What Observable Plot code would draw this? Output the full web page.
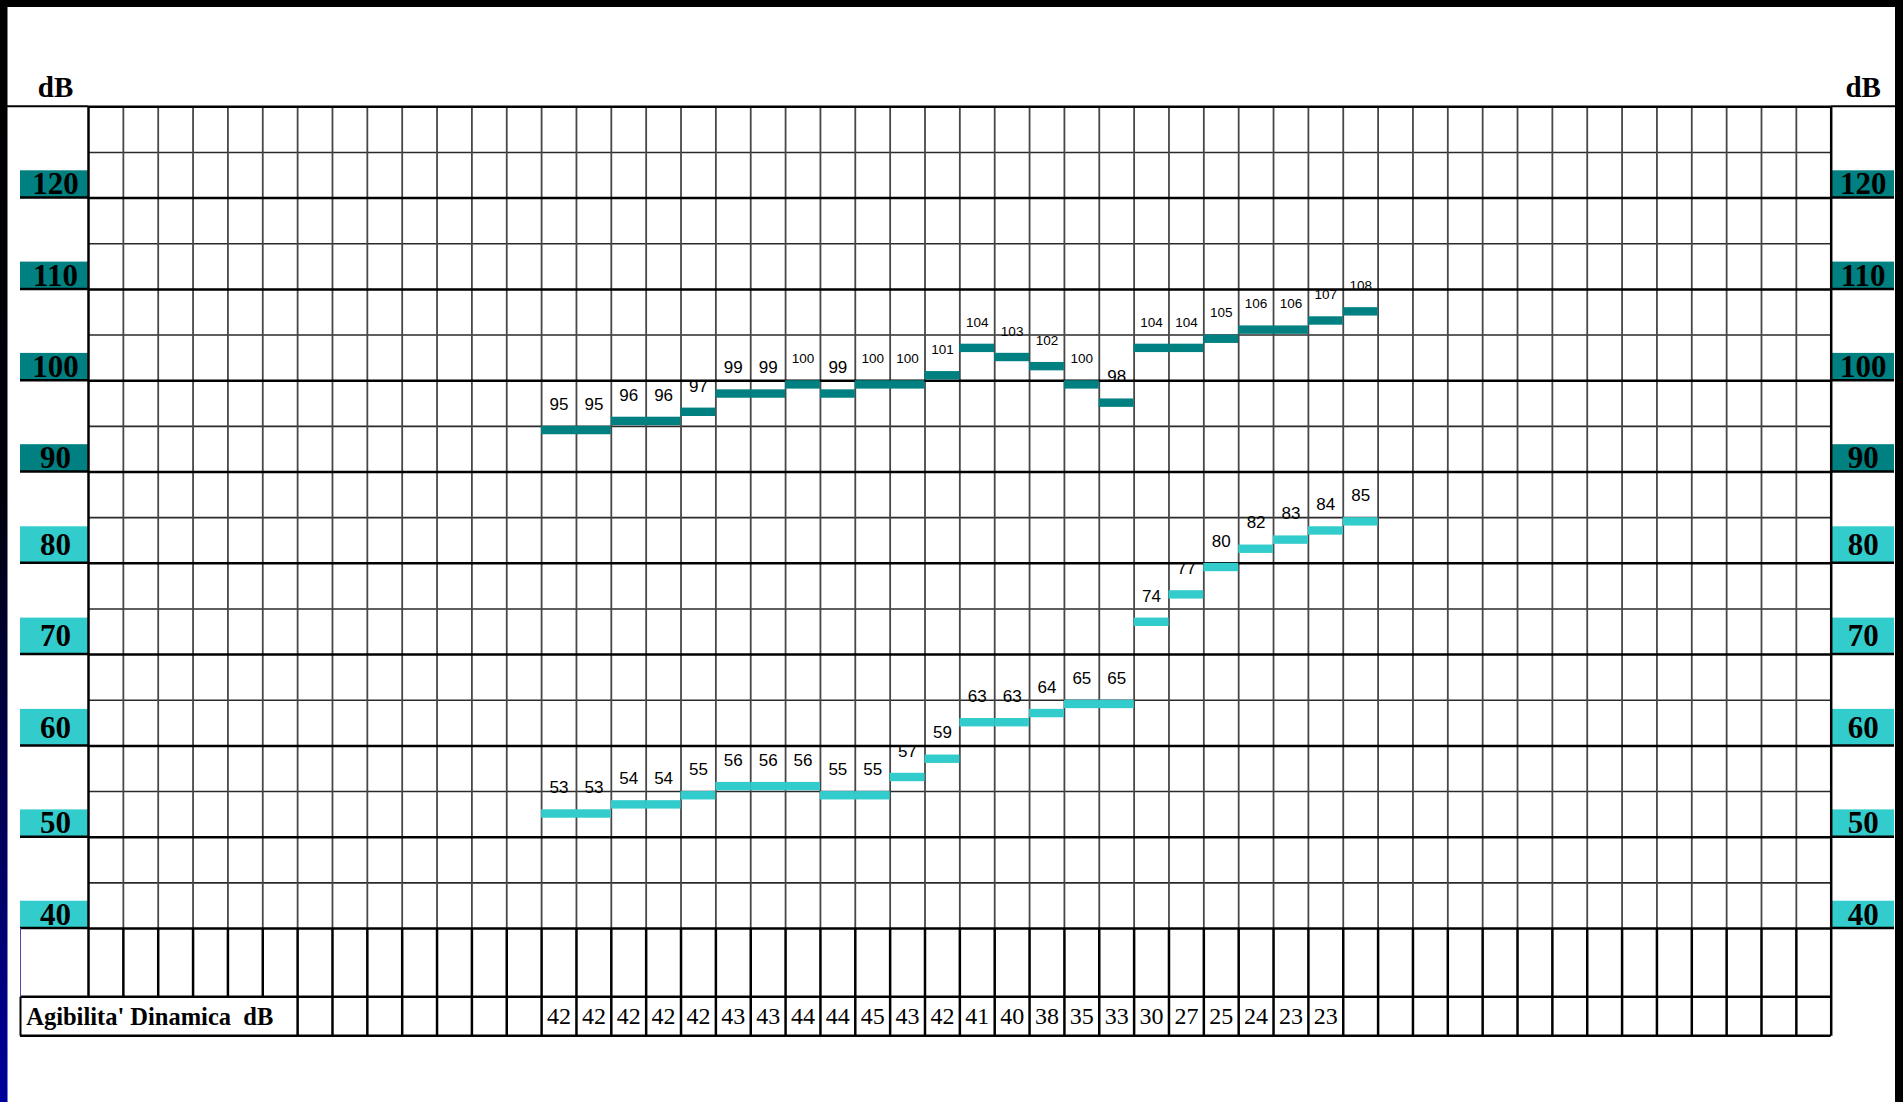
<!DOCTYPE html>
<html>
<head>
<meta charset="utf-8">
<script src="https://cdn.jsdelivr.net/npm/d3@7"></script>
<script src="https://cdn.jsdelivr.net/npm/@observablehq/plot@0.6"></script>
<style>
  html, body { margin: 0; padding: 0; background: #fff; overflow: hidden; }
  #chart { width: 1903px; height: 1102px; }
</style>
</head>
<body>
<div id="chart"></div>
<script>
// ---------------- data ----------------
const upperSeries = [95, 95, 96, 96, 97, 99, 99, 100, 99, 100, 100, 101, 104, 103, 102, 100, 98, 104, 104, 105, 106, 106, 107, 108];
const lowerSeries = [53, 53, 54, 54, 55, 56, 56, 56, 55, 55, 57, 59, 63, 63, 64, 65, 65, 74, 77, 80, 82, 83, 84, 85];
const agilityValues = [42, 42, 42, 42, 42, 43, 43, 44, 44, 45, 43, 42, 41, 40, 38, 35, 33, 30, 27, 25, 24, 23, 23];
const agilityLabel = "Agibilita' Dinamica\u00a0 dB";
const yTickLabels = [40, 50, 60, 70, 80, 90, 100, 110, 120];
const darkTickLabels = [90, 100, 110, 120];
const tallBoxTickLabels = [60, 70, 80];
const unitLabel = "dB";

// ---------------- layout ----------------
const W = 1903, H = 1102;
const totalColumns = 50, firstDataColumn = 13, mergedLabelColumns = 6;
const margin = {top: 106.3, right: 72.3, bottom: 66.3, left: 88};
const yMin = 40, yMax = 130;
const y40px = 928, tableMidPx = 996.7;
const frameBottom = H - margin.bottom;
const frameRight = W - margin.right;
const barThickness = 0.92;
const TEAL = "#008080", TURQ = "#33CCCC";
const serif = "'Liberation Serif','Times New Roman',serif";
const sans = "'Liberation Sans',Arial,sans-serif";
const boxShort = 27.3, boxTall = 36.5;

const upper = upperSeries.map((v, i) => ({col: firstDataColumn + i, v}));
const lower = lowerSeries.map((v, i) => ({col: firstDataColumn + i, v}));
const agility = agilityValues.map((v, i) => ({col: firstDataColumn + i, v}));

const minorLines = d3.range(yMin + 5, yMax, 10);
const majorLines = d3.range(yMin, yMax + 1, 10);
const innerColumns = d3.range(1, totalColumns);
const shortTicks = yTickLabels.filter(t => !tallBoxTickLabels.includes(t));
const tallTicks = yTickLabels.filter(t => tallBoxTickLabels.includes(t));

const labelSize = d => String(d.v).length > 2 ? 13.5 : 17;
const axisText = {tickSize: 0, textAnchor: "middle", fontSize: 31, fontWeight: "bold", fontFamily: serif, fill: "black", label: null};

const plot = Plot.plot({
  width: W, height: H,
  marginTop: margin.top, marginRight: margin.right, marginBottom: margin.bottom, marginLeft: margin.left,
  x: {domain: [0, totalColumns], axis: null},
  y: {domain: [yMin, yMax], range: [y40px, margin.top], label: null},
  style: {background: "transparent", color: "black", fontFamily: sans},
  marks: [
    // grid
    Plot.ruleY(minorLines, {stroke: "#2a2a2a", strokeWidth: 1.6}),
    Plot.ruleX(innerColumns, {y1: yMin, y2: yMax, stroke: "#474747", strokeWidth: 1.8}),
    Plot.ruleY(majorLines, {stroke: "black", strokeWidth: 2.5}),
    // table columns
    Plot.ruleX(d3.range(mergedLabelColumns, totalColumns), {insetTop: y40px - margin.top, stroke: "black", strokeWidth: 2.5}),
    Plot.ruleX(d3.range(1, mergedLabelColumns), {insetTop: y40px - margin.top, insetBottom: frameBottom - tableMidPx, stroke: "black", strokeWidth: 2.5}),
    Plot.ruleX([0], {insetBottom: frameBottom - tableMidPx, stroke: "black", strokeWidth: 2.5}),
    Plot.ruleX([totalColumns], {stroke: "black", strokeWidth: 2.5}),
    // bars
    Plot.rect(upper, {x1: "col", x2: d => d.col + 1, y1: d => d.v - barThickness, y2: "v", fill: TEAL}),
    Plot.rect(lower, {x1: "col", x2: d => d.col + 1, y1: d => d.v - barThickness, y2: "v", fill: TURQ}),
    // value labels
    Plot.text(upper, {x: d => d.col + 0.5, y: "v", text: d => String(d.v), dy: -22, lineAnchor: "middle", fontSize: labelSize, fontFamily: sans, fill: "black"}),
    Plot.text(lower, {x: d => d.col + 0.5, y: "v", text: d => String(d.v), dy: -22, lineAnchor: "middle", fontSize: labelSize, fontFamily: sans, fill: "black"}),
    // bottom table values
    Plot.text(agility, {x: d => d.col + 0.5, frameAnchor: "bottom", lineAnchor: "middle", dy: -19.5, text: d => String(d.v), fontSize: 24, fontFamily: serif, fill: "black"}),
    Plot.text([agilityLabel], {frameAnchor: "bottom-left", lineAnchor: "middle", dx: 25.7 - margin.left, dy: -19.5, text: d => d, textAnchor: "start", fontSize: 24.5, fontWeight: "bold", fontFamily: serif, fill: "black"}),
    // axes
    Plot.axisY(shortTicks, {...axisText, anchor: "left", tickPadding: 33, dy: -boxShort / 2}),
    Plot.axisY(tallTicks, {...axisText, anchor: "left", tickPadding: 33, dy: -boxTall / 2}),
    Plot.axisY(shortTicks, {...axisText, anchor: "right", tickPadding: 32, dy: -boxShort / 2}),
    Plot.axisY(tallTicks, {...axisText, anchor: "right", tickPadding: 32, dy: -boxTall / 2}),
    // unit titles
    Plot.text([unitLabel], {frameAnchor: "top-left", lineAnchor: "middle", dx: -33, dy: -18.6, text: d => d, textAnchor: "middle", fontSize: 29, fontWeight: "bold", fontFamily: serif, fill: "black"}),
    Plot.text([unitLabel], {frameAnchor: "top-right", lineAnchor: "middle", dx: 32, dy: -18.6, text: d => d, textAnchor: "middle", fontSize: 29, fontWeight: "bold", fontFamily: serif, fill: "black"})
  ]
});

document.getElementById("chart").appendChild(plot);

// ---------------- decorations outside the frame ----------------
const svg = d3.select(plot);
const ys = plot.scale("y");
const leftBoxX = 20, rightBoxEnd = 1894;

const boxes = svg.insert("g", ":first-child");
for (const t of yTickLabels) {
  const yy = ys.apply(t);
  const fill = darkTickLabels.includes(t) ? TEAL : TURQ;
  const bh = tallBoxTickLabels.includes(t) ? boxTall : boxShort;
  boxes.append("rect").attr("x", leftBoxX).attr("y", yy - bh).attr("width", margin.left - leftBoxX).attr("height", bh).attr("fill", fill);
  boxes.append("rect").attr("x", frameRight + 1).attr("y", yy - bh).attr("width", rightBoxEnd - frameRight - 1).attr("height", bh).attr("fill", fill);
}
const lines = boxes.append("g").attr("stroke", "black").attr("stroke-width", 2.5);
for (const t of yTickLabels) {
  const yy = ys.apply(t);
  lines.append("line").attr("x1", leftBoxX).attr("x2", margin.left).attr("y1", yy).attr("y2", yy);
  lines.append("line").attr("x1", frameRight).attr("x2", rightBoxEnd).attr("y1", yy).attr("y2", yy);
}
const topY = ys.apply(yMax);
lines.append("line").attr("x1", 7).attr("x2", margin.left).attr("y1", topY).attr("y2", topY).attr("stroke-width", 2);
lines.append("line").attr("x1", frameRight).attr("x2", 1895).attr("y1", topY).attr("y2", topY).attr("stroke-width", 2);
// table rows
lines.append("line").attr("x1", leftBoxX).attr("x2", frameRight).attr("y1", tableMidPx).attr("y2", tableMidPx);
lines.append("line").attr("x1", leftBoxX).attr("x2", frameRight).attr("y1", frameBottom).attr("y2", frameBottom);
lines.append("line").attr("x1", leftBoxX + 0.5).attr("x2", leftBoxX + 0.5).attr("y1", tableMidPx).attr("y2", frameBottom).attr("stroke-width", 2);
lines.append("line").attr("x1", leftBoxX + 0.5).attr("x2", leftBoxX + 0.5).attr("y1", y40px).attr("y2", tableMidPx).attr("stroke", "#4a4aa8").attr("stroke-width", 1);

// slide borders
const defs = svg.append("defs");
const grad = defs.append("linearGradient").attr("id", "leftbar").attr("x1", 0).attr("y1", 0).attr("x2", 0).attr("y2", 1);
grad.append("stop").attr("offset", "0%").attr("stop-color", "#000000");
grad.append("stop").attr("offset", "45%").attr("stop-color", "#00000c");
grad.append("stop").attr("offset", "100%").attr("stop-color", "#00009c");
svg.append("rect").attr("x", 0).attr("y", 0).attr("width", 7.5).attr("height", H).attr("fill", "url(#leftbar)");
svg.append("rect").attr("x", 0).attr("y", 0).attr("width", W).attr("height", 7).attr("fill", "black");
svg.append("rect").attr("x", 1895).attr("y", 0).attr("width", W - 1895).attr("height", H).attr("fill", "black");
</script>
</body>
</html>
